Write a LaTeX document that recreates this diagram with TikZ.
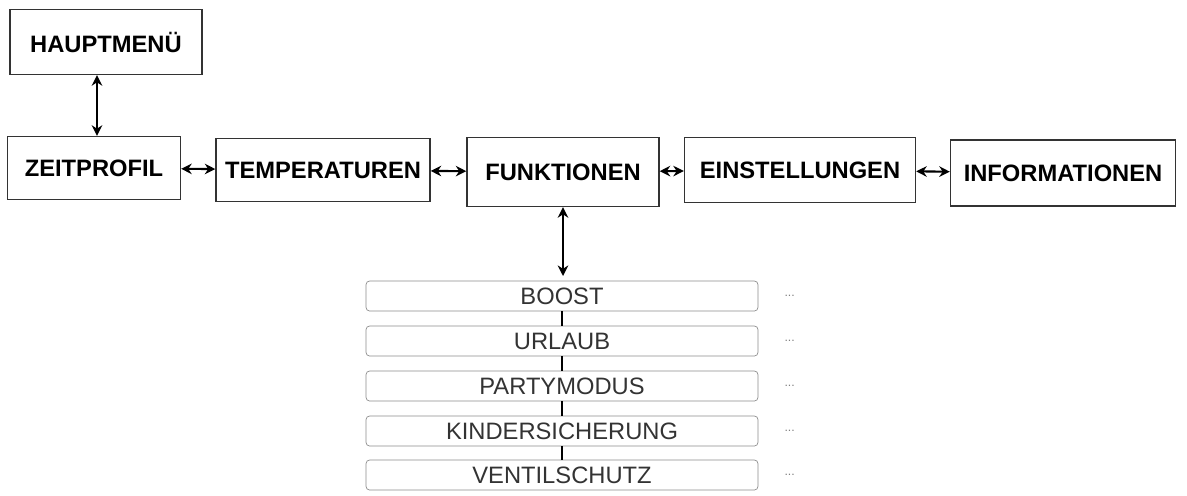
\documentclass[tikz,border=0pt]{standalone}
\usepackage{fontspec}
\setmainfont{Liberation Sans}
\usetikzlibrary{arrows.meta}
\tikzset{>={Stealth[length=6pt,width=6pt]}}
\tikzset{%
    menubox/.style={draw=black!80,thick,fill=white,font=\fontsize{13.5}{15}\selectfont\bfseries,
        inner sep=0pt},
    subbox/.style={draw=black!45,rounded corners=2pt,fill=white,minimum width=7.84cm,
        minimum height=0.6cm,inner sep=0pt,font=\fontsize{13.5}{15}\selectfont\color{black!80}},
    link/.style={<->,very thick},
    dots/.style={font=\scriptsize\color{black!50}}
}
\begin{document}
\begin{tikzpicture}[x=0.02cm,y=-0.02cm]
\useasboundingbox (0,0) rectangle (1187,495);

\node[menubox,minimum width=3.84cm,minimum height=1.3cm] (haupt) at (106,42) {HAUPTMENÜ};
\node[menubox,minimum width=3.46cm,minimum height=1.26cm] (zeit) at (94,168) {ZEITPROFIL};
\node[menubox,minimum width=4.28cm,minimum height=1.26cm] (temp) at (323,170) {TEMPERATUREN};
\node[menubox,minimum width=3.84cm,minimum height=1.38cm] (funk) at (563,172) {FUNKTIONEN};
\node[menubox,minimum width=4.62cm,minimum height=1.3cm] (einst) at (800,170) {EINSTELLUNGEN};
\node[menubox,minimum width=4.5cm,minimum height=1.32cm] (info) at (1063,173) {INFORMATIONEN};

\node[subbox] (boost) at (562,296) {BOOST};
\node[subbox] (urlaub) at (562,341) {URLAUB};
\node[subbox] (party) at (562,386) {PARTYMODUS};
\node[subbox] (kinder) at (562,431) {KINDERSICHERUNG};
\node[subbox] (ventil) at (562,475) {VENTILSCHUTZ};

\foreach \n in {boost,urlaub,party,kinder,ventil}
  \node[dots,anchor=west] (\n-dots) at ([xshift=0.4cm]\n.east) {...};

\draw[link] (haupt.south -| 97,0) -- (zeit.north -| 97,0);
\draw[link] (zeit) -- (temp);
\draw[link] (temp) -- (funk);
\draw[link] (funk) -- (einst);
\draw[link] (einst) -- (info);
\coordinate (top) at (563,276);
\draw[link] (funk.south) -- (top);

\draw[very thick] (boost) -- (urlaub);
\draw[very thick] (urlaub) -- (party);
\draw[very thick] (party) -- (kinder);
\draw[very thick] (kinder) -- (ventil);
\end{tikzpicture}
\end{document}
